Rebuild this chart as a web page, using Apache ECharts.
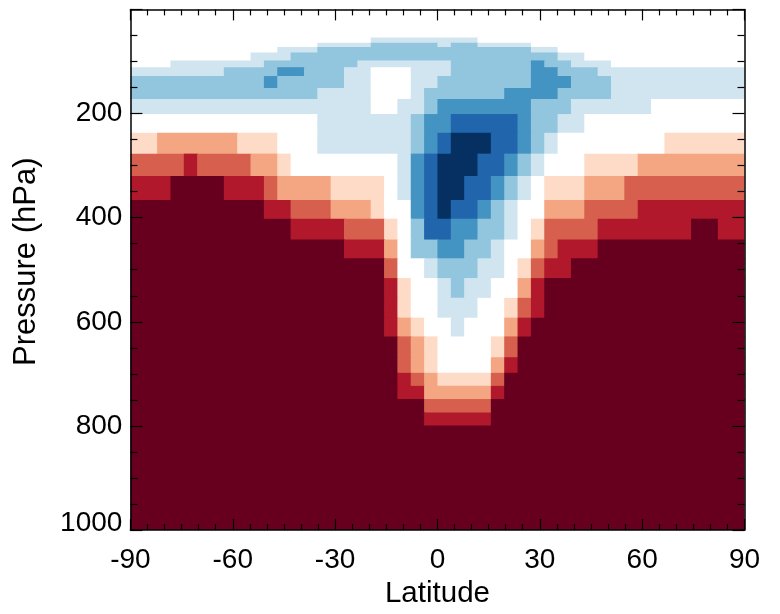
<!DOCTYPE html>
<html>
<head>
<meta charset="utf-8">
<title>Latitude - pressure section</title>
<script src="https://cdn.jsdelivr.net/npm/echarts@6/dist/echarts.min.js"></script>
<style>
  html, body { margin: 0; padding: 0; background: #fff; }
  #chart { width: 780px; height: 614px; }
</style>
</head>
<body>
<div id="chart"></div>
<script>
// latitude grid: 46 equal bands from -90 to 90
const latCount = 46;
const latRange = [-90, 90];
const latTicks = [-90, -60, -30, 0, 30, 60, 90];
const pressureTicks = [0, 200, 400, 600, 800, 1000];

// pressure band edges (hPa), top to bottom
const pressureEdges = [0, 54, 64, 72, 83, 98, 111, 128, 151, 172, 201, 237, 277, 320,
  366, 402, 442, 478, 516, 554, 592, 628, 668, 698, 723, 748, 774, 799, 1000];

// shading classes: dark blue .. white .. dark red
const levelKeys = 'ABCDEWFGHIJ';
const levelColors = ['#053061', '#2166ac', '#4393c3', '#92c5de', '#d1e5f0', '#ffffff',
  '#fddbc7', '#f4a582', '#d6604d', '#b2182b', '#67001f'];

// one run-length coded row per pressure band ("<count><class>"), west to east
const bandRows = [
  '46W',
  '18W8E20W',
  '14W4E5D1E2D4E16W',
  '11W3E16D2E14W',
  '9W3E20D2E12W',
  '3W7E7D7E6D1C2D3E10W',
  '7E4D2C3D2E3W3E6D2C3D11E',
  '10D1C5D2E3W2E7D3C3D10E',
  '14D4E3W1E6D4C4D10E',
  '18E2W2E1D7C3D6E7W',
  '14W7E1D2C5B1C2D2E12W',
  '2F6G3F3W7E1D1C1B3A2B1C1D1E8W6F',
  '4H1I4H2G1F8W1E1C1B3A2B1C1D1E3W4F8G',
  '3I4J3I1H4G4F1W1E1C1B2A2B1C1D1E1W3F3G9H',
  '10J2I3H3G1F2W1C1B1A2B1C1D1E2W3G4H8I',
  '12J4I3H1F1W1D2B2C2D1E1W1F4H7I2J2I',
  '16J3I1G1W2D2C2D1E2W1G1H3I11J',
  '19J1H2W1E3D2E1W1F1H2I13J',
  '19J1I1F2W1E1D2E2W1G1I15J',
  '19J1I1F2W3E2W1F1H1I15J',
  '19J1I1G1F2W1E3W1G1I16J',
  '20J1H1G1F4W1F1H17J',
  '20J1H1G1F4W1G1I17J',
  '20J1I1H1G4F1H18J',
  '20J2I5G1I18J',
  '22J5H19J',
  '22J5I19J',
  '46J'
];

// build cells: [lat0, lat1, p0, p1, level]
const latStep = (latRange[1] - latRange[0]) / latCount;
const cells = [];
bandRows.forEach(function (row, r) {
  let col = 0;
  row.replace(/(\d+)([A-Z])/g, function (m, n, key) {
    n = +n;
    cells.push([
      latRange[0] + col * latStep,
      latRange[0] + (col + n) * latStep,
      pressureEdges[r], pressureEdges[r + 1],
      levelKeys.indexOf(key)
    ]);
    col += n;
    return m;
  });
});

const font = 'Liberation Sans, Arial, Helvetica, sans-serif';
const black = '#000';
const labelSize = 28;

function baseX(pos, showLabels) {
  return {
    type: 'value', position: pos, z: 5,
    min: latTicks[0], max: latTicks[latTicks.length - 1], interval: latTicks[1] - latTicks[0],
    axisLine: { show: true, onZero: false, lineStyle: { color: black, width: 1.5 } },
    axisTick: { show: true, inside: true, length: 11, lineStyle: { color: black, width: 1.2 } },
    minorTick: { show: true, splitNumber: 6, length: 6, lineStyle: { color: black, width: 1.2 } },
    splitLine: { show: false },
    axisLabel: { show: showLabels, margin: 16, color: black, fontSize: labelSize, fontFamily: font }
  };
}
function baseY(pos, showLabels) {
  return {
    type: 'value', position: pos, inverse: true, z: 5,
    min: pressureTicks[0], max: pressureTicks[pressureTicks.length - 1],
    interval: pressureTicks[1] - pressureTicks[0],
    axisLine: { show: true, onZero: false, lineStyle: { color: black, width: 1.5 } },
    axisTick: { show: true, inside: true, length: 12, lineStyle: { color: black, width: 1.2 } },
    minorTick: { show: true, splitNumber: 4, length: 7, lineStyle: { color: black, width: 1.2 } },
    splitLine: { show: false },
    axisLabel: {
      show: showLabels, showMinLabel: false, margin: 8, color: black,
      fontSize: labelSize, fontFamily: font,
      // bottom label sits a little above its tick, clear of the latitude labels
      formatter: function (v) { return v === 1000 ? '{low|' + v + '}' : String(v); },
      rich: { low: { fontSize: labelSize, fontFamily: font, color: black, padding: [0, 0, 14, 0] } }
    }
  };
}

const xMain = baseX('bottom', true);
xMain.name = 'Latitude';
xMain.nameLocation = 'middle';
xMain.nameGap = 43;
xMain.nameTextStyle = { color: black, fontSize: 29.5, fontFamily: font };

const yMain = baseY('left', true);
yMain.name = 'Pressure (hPa)';
yMain.nameLocation = 'middle';
yMain.nameGap = 88;
yMain.nameTextStyle = { color: black, fontSize: 31, fontFamily: font, padding: [0, 0, 0, 16] };

const chart = echarts.init(document.getElementById('chart'));
chart.setOption({
  animation: false,
  backgroundColor: '#fff',
  grid: { left: 130.4, top: 9.4, width: 614.1, height: 526.6 },
  xAxis: [xMain, baseX('top', false)],
  yAxis: [yMain, baseY('right', false)],
  series: [{
    type: 'custom',
    z: 1,
    xAxisIndex: 0,
    yAxisIndex: 0,
    data: cells,
    dimensions: ['lat0', 'lat1', 'p0', 'p1', 'level'],
    encode: { x: [0, 1], y: [2, 3] },
    renderItem: function (params, api) {
      const a = api.coord([api.value(0), api.value(2)]);
      const b = api.coord([api.value(1), api.value(3)]);
      const c = levelColors[api.value(4)];
      // overlap the next cell by a pixel so no seams show between bands
      const padW = api.value(1) < latRange[1] ? 1 : 0;
      const padH = api.value(3) < pressureTicks[pressureTicks.length - 1] ? 1 : 0;
      return {
        type: 'rect',
        shape: { x: a[0], y: a[1], width: b[0] - a[0] + padW, height: b[1] - a[1] + padH },
        style: { fill: c }
      };
    }
  }]
});
</script>
</body>
</html>
